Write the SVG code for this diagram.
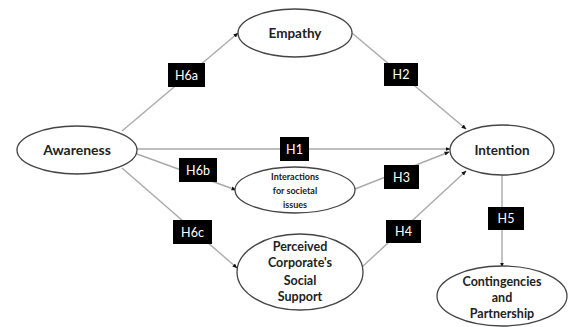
<svg xmlns="http://www.w3.org/2000/svg" width="573" height="327" viewBox="0 0 573 327">
<style>
.node ellipse{fill:#fff;stroke:#444;stroke-width:1.3}
.t{font-family:Lato,"Open Sans","Liberation Sans",sans-serif;font-weight:bold;fill:#222;text-anchor:middle}
.edge{stroke:#aaa;stroke-width:1.4;fill:none;marker-end:url(#ah)}
.lb rect{fill:#000}
.lb text{font-family:Lato,"Open Sans","Liberation Sans",sans-serif;font-size:12.5px;fill:#fff;text-anchor:middle}
</style>
<defs>
<marker id="ah" viewBox="0 0 10 10" refX="9" refY="5" markerWidth="5" markerHeight="5" markerUnits="userSpaceOnUse" orient="auto">
<path d="M0,1 L10,5 L0,9 z" fill="#111"/>
</marker>
</defs>
<rect width="573" height="327" fill="#fff"/>
<g id="connectors">
<line class="edge" x1="122" y1="131" x2="238" y2="33"/>
<line class="edge" x1="352" y1="33" x2="466" y2="129"/>
<line class="edge" x1="137" y1="149" x2="450" y2="149"/>
<line class="edge" x1="137" y1="154" x2="236" y2="190"/>
<line class="edge" x1="355" y1="189" x2="449" y2="152"/>
<line class="edge" x1="122" y1="168" x2="237" y2="268"/>
<line class="edge" x1="362" y1="267" x2="466" y2="171"/>
<line class="edge" x1="502" y1="175" x2="502" y2="267"/>
</g>
<g id="labels">
<g class="lb" id="H6a"><rect x="168" y="63" width="37" height="24"/><text x="186.5" y="79.5">H6a</text></g>
<g class="lb" id="H2"><rect x="384" y="63" width="34" height="23"/><text x="401" y="79">H2</text></g>
<g class="lb" id="H1"><rect x="280" y="137" width="29" height="24"/><text x="294.5" y="153.5">H1</text></g>
<g class="lb" id="H6b"><rect x="179" y="158" width="38" height="24"/><text x="198" y="174.5">H6b</text></g>
<g class="lb" id="H3"><rect x="384" y="165" width="35" height="24"/><text x="401.5" y="181.5">H3</text></g>
<g class="lb" id="H6c"><rect x="173" y="220" width="39" height="24"/><text x="192.5" y="236.5">H6c</text></g>
<g class="lb" id="H4"><rect x="386" y="220" width="35" height="23"/><text x="403.5" y="236">H4</text></g>
<g class="lb" id="H5"><rect x="488" y="207" width="36" height="23"/><text x="506" y="223">H5</text></g>
</g>
<g class="node" id="awareness"><ellipse cx="77" cy="150" rx="60" ry="24"/><text class="t" x="77" y="155" font-size="14">Awareness</text></g>
<g class="node" id="empathy"><ellipse cx="295" cy="33" rx="57" ry="24"/><text class="t" x="295" y="38" font-size="13.5">Empathy</text></g>
<g class="node" id="intention"><ellipse cx="502" cy="150" rx="52" ry="25"/><text class="t" x="502" y="155" font-size="13.5">Intention</text></g>
<g class="node" id="interactions"><ellipse cx="295" cy="190" rx="60" ry="23"/>
<text class="t" font-size="9"><tspan x="295" y="180">Interactions</tspan><tspan x="295" y="194">for societal</tspan><tspan x="295" y="208">issues</tspan></text></g>
<g class="node" id="perceived"><ellipse cx="300" cy="272" rx="63" ry="38"/>
<text class="t" font-size="12.5"><tspan x="300" y="251">Perceived</tspan><tspan x="300" y="267">Corporate's</tspan><tspan x="300" y="285">Social</tspan><tspan x="300" y="301">Support</tspan></text></g>
<g class="node" id="contingencies"><ellipse cx="502" cy="296" rx="65" ry="30"/>
<text class="t" font-size="12.5"><tspan x="502" y="286">Contingencies</tspan><tspan x="502" y="302">and</tspan><tspan x="502" y="318">Partnership</tspan></text></g>
</svg>
